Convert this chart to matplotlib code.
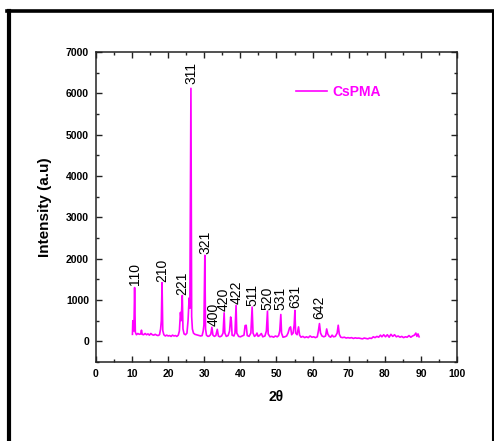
"""XRD pattern of CsPMA with (hkl) peak labels."""

import matplotlib
matplotlib.use("Agg")
import matplotlib.pyplot as plt
from matplotlib.lines import Line2D
from matplotlib.ticker import MultipleLocator

plt.rcParams["font.family"] = ["Liberation Sans", "DejaVu Sans"]

# 2theta (deg) and intensity (a.u.)
two_theta = [
    10.1, 10.2, 10.35, 10.5, 10.7, 10.9, 11.2, 11.6, 12.0, 12.4, 12.6, 12.8,
    13.2, 13.6, 14.0, 14.4, 14.8, 15.2, 15.6, 16.0, 16.4, 16.8, 17.2, 17.6,
    17.9, 18.1, 18.3, 18.5, 18.8, 19.2, 19.6, 20.0, 20.4, 20.8, 21.2, 21.6,
    22.0, 22.4, 22.8, 23.1, 23.4, 23.6, 23.9, 24.1, 24.4, 24.8, 25.2, 25.5,
    25.8, 26.0, 26.3, 26.5, 26.7, 27.0, 27.4, 27.8, 28.2, 28.6, 29.0, 29.4,
    29.7, 29.9, 30.15, 30.35, 30.6, 31.0, 31.4, 31.8, 32.1, 32.4, 32.8, 33.2,
    33.6, 33.9, 34.3, 34.8, 35.2, 35.5, 35.7, 36.1, 36.6, 37.0, 37.3, 37.5,
    37.7, 38.2, 38.5, 38.8, 39.0, 39.5, 40.0, 40.5, 41.0, 41.3, 41.6, 41.9,
    42.4, 42.9, 43.25, 43.5, 43.9, 44.3, 44.6, 44.9, 45.3, 45.8, 46.2, 46.8,
    47.2, 47.5, 47.7, 48.2, 48.7, 49.2, 49.7, 50.2, 50.6, 50.9, 51.2, 51.4,
    51.8, 52.3, 52.8, 53.2, 53.6, 53.9, 54.2, 54.6, 54.9, 55.1, 55.3, 55.7,
    56.1, 56.4, 56.8, 57.3, 57.8, 58.3, 58.8, 59.3, 59.8, 60.3, 60.8, 61.3,
    61.6, 61.9, 62.2, 62.6, 63.1, 63.6, 63.9, 64.2, 64.6, 65.0, 65.4, 65.8,
    66.3, 66.8, 67.1, 67.4, 67.8, 68.3, 68.8, 69.3, 69.8, 70.3, 70.8, 71.3,
    71.8, 72.3, 72.8, 73.3, 73.8, 74.3, 74.8, 75.3, 75.8, 76.3, 76.8, 77.3,
    77.8, 78.3, 78.8, 79.2, 79.7, 80.2, 80.7, 81.2, 81.7, 82.2, 82.7, 83.2,
    83.7, 84.2, 84.7, 85.2, 85.7, 86.2, 86.7, 87.2, 87.7, 88.2, 88.6, 88.9,
    89.2, 89.5,
]
intensity = [
    170, 500, 420, 250, 1300, 220, 160, 190, 170, 180, 270, 170,
    160, 190, 160, 180, 150, 190, 160, 150, 170, 150, 140, 160,
    300, 500, 1420, 260, 160, 130, 150, 130, 140, 120, 150, 130,
    140, 120, 150, 250, 700, 500, 1110, 300, 180, 160, 200, 500,
    1050, 800, 6120, 600, 300, 200, 170, 160, 150, 140, 130, 140,
    250, 400, 2080, 300, 150, 120, 130, 170, 340, 150, 120, 140,
    290, 130, 110, 130, 200, 690, 200, 120, 140, 250, 590, 500,
    150, 130, 200, 870, 200, 120, 110, 130, 150, 380, 390, 140,
    120, 200, 830, 200, 120, 150, 200, 120, 140, 190, 110, 130,
    250, 730, 180, 110, 120, 100, 130, 110, 140, 250, 650, 200,
    100, 110, 130, 200, 320, 350, 160, 200, 400, 750, 200, 160,
    350, 150, 100, 120, 90, 110, 90, 130, 100, 110, 90, 110,
    250, 430, 200, 130, 110, 130, 300, 180, 120, 100, 150, 110,
    120, 200, 390, 170, 100, 90, 100, 80, 90, 80, 90, 70,
    85, 75, 80, 70, 60, 80, 70, 60, 80, 70, 110, 90,
    120, 100, 150, 110, 160, 110, 160, 100, 170, 120, 160, 110,
    130, 100, 120, 90, 110, 100, 140, 100, 130, 150, 200, 120,
    180, 110,
]

# Miller indices with label anchor (2theta, intensity just above the peak)
hkl_labels = ["110", "210", "221", "311", "321", "400", "420", "422",
              "511", "520", "531", "631", "642"]
hkl_pos = [10.7, 18.3, 23.8, 26.3, 30.2, 32.7, 35.4, 39.0,
           43.3, 47.4, 51.1, 55.1, 61.9]
hkl_height = [1360, 1440, 1130, 6220, 2110, 360, 740, 910,
              850, 750, 760, 800, 540]

MAGENTA = "#ff00ff"

fig = plt.figure(figsize=(4.94, 4.41), dpi=100)
ax = fig.add_axes([0.1943, 0.1791, 0.7308, 0.7030])

ax.plot(two_theta, intensity, color=MAGENTA, linewidth=1.2, label="CsPMA")
for lab, x, y in zip(hkl_labels, hkl_pos, hkl_height):
    ax.text(x, y, lab, rotation=90, ha="center", va="bottom", fontsize=10)

ax.set_xlim(0, 100)
ax.set_ylim(-500, 7000)
ax.xaxis.set_major_locator(MultipleLocator(10))
ax.xaxis.set_minor_locator(MultipleLocator(5))
ax.yaxis.set_major_locator(MultipleLocator(1000))
ax.yaxis.set_minor_locator(MultipleLocator(500))
ax.set_yticks(range(0, 7001, 1000))
ax.tick_params(which="both", direction="in", top=True, right=True,
               labelsize=7.5, pad=5, color="#222222")
ax.tick_params(which="major", length=4, width=1)
ax.tick_params(which="minor", length=2, width=1)
for lbl in ax.get_xticklabels() + ax.get_yticklabels():
    lbl.set_fontweight("bold")
for s in ax.spines.values():
    s.set_linewidth(1.1)
    s.set_color("#222222")

ax.set_xlabel("2θ", fontsize=10, fontweight="bold", labelpad=8)
ax.set_ylabel("Intensity (a.u)", fontsize=11, fontweight="bold", labelpad=10)

leg = ax.legend(loc="upper left", bbox_to_anchor=(0.52, 0.935), frameon=False,
                handlelength=2.2, handletextpad=0.4,
                prop={"weight": "bold", "size": 10})
for t in leg.get_texts():
    t.set_color(MAGENTA)

# outer frame around the figure
W, H = 494.0, 441.0
fig.add_artist(Line2D([9 / W, 9 / W], [0, 1 - 11 / H], transform=fig.transFigure,
                      color="black", linewidth=3))
fig.add_artist(Line2D([7 / W, 494 / W], [1 - 11 / H, 1 - 11 / H],
                      transform=fig.transFigure, color="black", linewidth=2.6))
fig.add_artist(Line2D([492.5 / W, 492.5 / W], [0, 1 - 11 / H],
                      transform=fig.transFigure, color="black", linewidth=1.5))

fig.savefig("out.png", dpi=100)
